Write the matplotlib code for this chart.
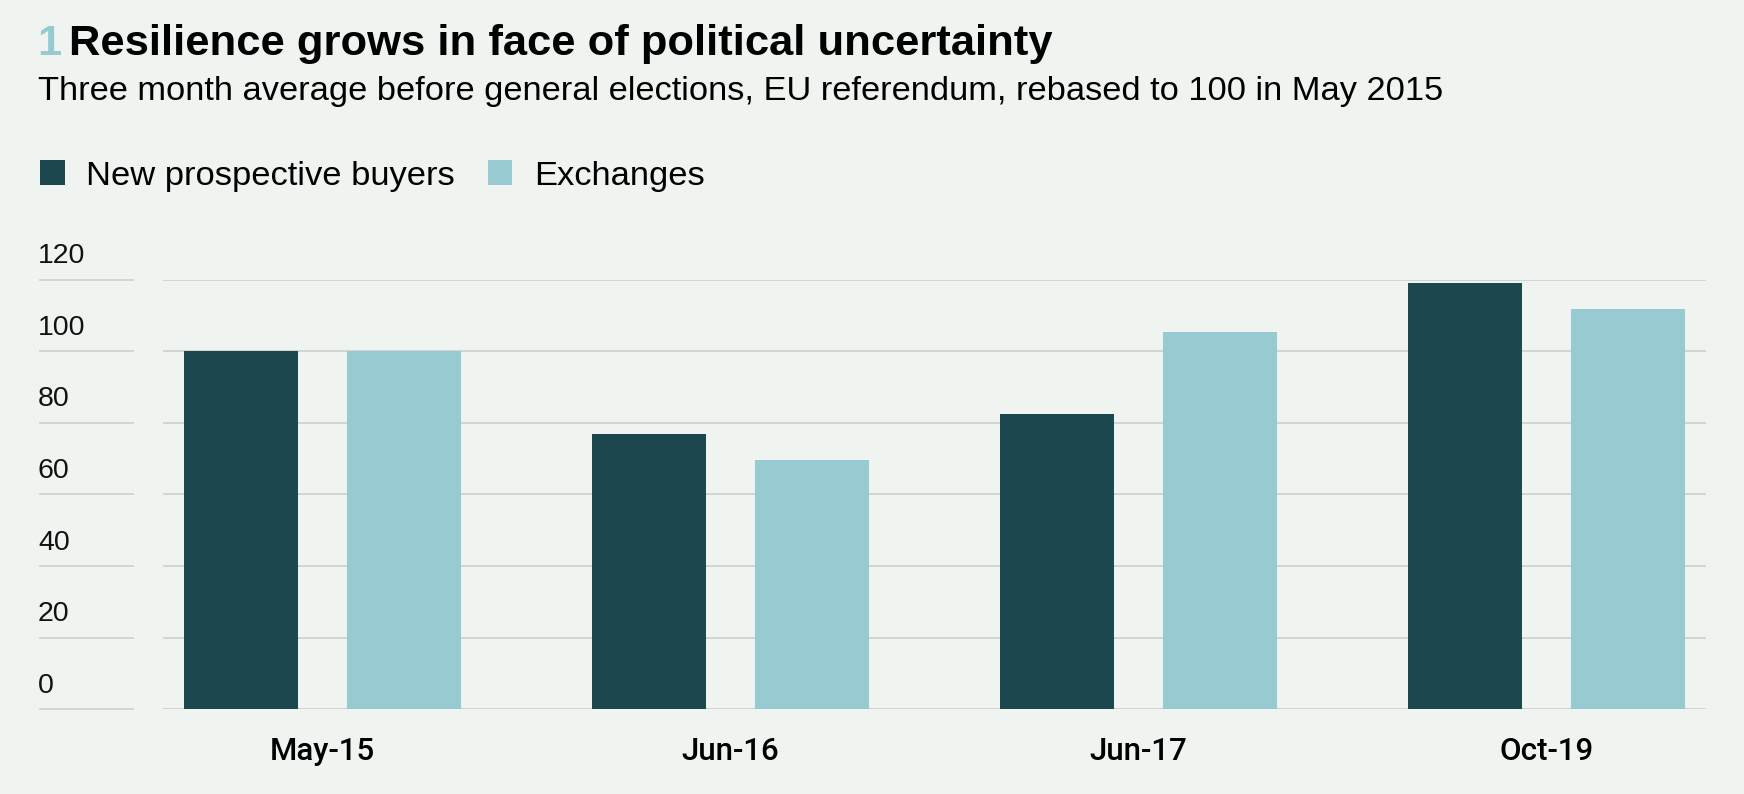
import numpy as np
import matplotlib
matplotlib.use("Agg")
from matplotlib import pyplot as plt
from matplotlib import transforms

# Data
categories = ["May-15", "Jun-16", "Jun-17", "Oct-19"]
buyers = [100, 76.9, 82.4, 119.0]
exchanges = [100, 69.6, 105.3, 111.8]
yTicks = [0, 20, 40, 60, 80, 100, 120]
yTickLabels = ["0", "20", "40", "60", "80", "100", "120"]

title = "Resilience grows in face of political uncertainty"
subtitle = "Three month average before general elections, EU referendum, rebased to 100 in May 2015"

BG = "#f0f4f1"
DARK = "#1c474f"
LIGHT = "#98cad1"
GRID = "#d0d2d0"

plt.rcParams["font.family"] = ["Liberation Sans", "DejaVu Sans"]

W, H = 1744, 794
fig = plt.figure(figsize=(W / 100, H / 100), dpi=100, facecolor=BG)

axL, axR, axB, axT = 163, 1706, 709.3, 279.5
ax = fig.add_axes([axL / W, 1 - axB / H, (axR - axL) / W, (axB - axT) / H])
ax.set_facecolor(BG)

x = np.arange(len(categories))
barW = 0.2794
off = 0.2
bBuy = ax.bar(x - off, buyers, width=barW, color=DARK, label="New prospective buyers", zorder=3)
bEx = ax.bar(x + off, exchanges, width=barW, color=LIGHT, label="Exchanges", zorder=3)

ax.set_xlim(-0.391, len(categories) - 1 + 0.391)
ax.set_ylim(0, 120)
ax.set_yticks(yTicks)
ax.yaxis.grid(True, color=GRID, linewidth=1.3, zorder=0)
ax.tick_params(axis="y", length=0, labelleft=False)
ax.tick_params(axis="x", length=0, pad=20)
ax.set_xticks(x)
ax.set_xticklabels(categories, fontsize=22.5, family=["Roboto", "Liberation Sans"], fontweight="medium")
for spine in ax.spines.values():
    spine.set_visible(False)

# y labels sit above short grid segments to the left of the plot
ytrans = ax.get_yaxis_transform()
labTrans = transforms.offset_copy(ytrans, fig=fig, x=0, y=16.5, units="dots")
segX0 = (40 - axL) / (axR - axL)
segX1 = (133 - axL) / (axR - axL)
labX = (38 - axL) / (axR - axL)
for val, lab in zip(yTicks, yTickLabels):
    ax.plot([segX0, segX1], [val, val], color=GRID, lw=1.3, transform=ytrans, clip_on=False)
    ax.text(labX, val, lab, transform=labTrans, ha="left", va="baseline", fontsize=20.5, color="#111111")

# legend
ax.legend(handles=[bBuy, bEx], loc="center left", bbox_to_anchor=(40 / W, 1 - 176 / H),
          bbox_transform=fig.transFigure, ncol=2, frameon=False, fontsize=24.8,
          handlelength=0.72, handleheight=0.72, handletextpad=0.62, columnspacing=0.95,
          borderpad=0, borderaxespad=0)

# title and subtitle
fig.text(37 / W, 1 - 55 / H, "1", fontsize=31.3, fontweight="bold", color=LIGHT, va="baseline")
fig.text(69 / W, 1 - 55 / H, title, fontsize=31.3, fontweight="bold", color="black", va="baseline")
fig.text(38 / W, 1 - 100 / H, subtitle, fontsize=24.75, color="black", va="baseline")

fig.savefig("out.png", dpi=100, facecolor=BG)
